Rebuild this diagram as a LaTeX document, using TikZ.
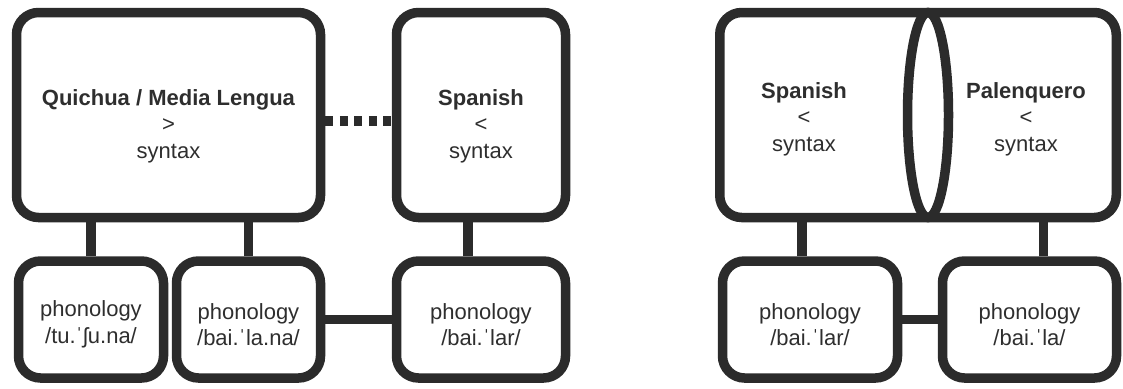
\documentclass[tikz,border=0pt]{standalone}
\usepackage{fontspec}
\setmainfont{Liberation Sans}
\usetikzlibrary{shapes.geometric}
\definecolor{ink}{HTML}{2B2B2B}
\definecolor{txt}{HTML}{2E2E2E}

\begin{document}
\begin{tikzpicture}[x=1pt, y=-1pt,
    frame/.style={draw=ink, line width=9.5pt, rounded corners=22pt, inner sep=0pt},
    lbl/.style={align=center, text=txt, inner sep=0pt, font=\fontsize{22}{26.5}\selectfont},
    link/.style={draw=ink, line width=9.5pt}]
    \useasboundingbox (0,0) rectangle (1123,388);

    % -- linke Gruppe: Syntax --
    \node[frame, minimum width=304pt, minimum height=205pt] (quichua) at (168.5,115) {};
    \node[frame, minimum width=169pt, minimum height=205pt] (spanL) at (481,115) {};
    \node[lbl] (quichuaTxt) at ([yshift=-11pt]quichua.center)
        {\textbf{Quichua / Media Lengua}\\>\\syntax};
    \node[lbl] (spanLTxt) at ([yshift=-11pt]spanL.center)
        {\textbf{Spanish}\\<\\syntax};

    % -- linke Gruppe: Phonologie --
    \node[frame, minimum width=145pt, minimum height=117pt] (phTu) at (91,319.5) {};
    \node[frame, minimum width=144pt, minimum height=117pt] (phBaiNa) at (248.5,319.5) {};
    \node[frame, minimum width=169pt, minimum height=117pt] (phBaiL) at (481,319.5) {};
    \node[lbl] at ([yshift=-5pt]phTu.center) {phonology\\/tu.ˈʃu.na/};
    \node[lbl] at ([yshift=-5pt]phBaiNa.center) {phonology\\/bai.ˈla.na/};
    \node[lbl] at ([yshift=-5pt]phBaiL.center) {phonology\\/bai.ˈlar/};

    \draw[link] (phTu.north) -- (phTu.north |- quichua.south);
    \draw[link] (phBaiNa.north) -- (phBaiNa.north |- quichua.south);
    \draw[link] ([xshift=-13pt]phBaiL.north) -- ([xshift=-13pt]phBaiL.north |- spanL.south);
    \draw[link] (phBaiNa.east) -- (phBaiL.west);
    \draw[link, dash pattern=on 8pt off 6.5pt]
        ([yshift=-6pt]quichua.east) -- ([yshift=-6pt]spanL.west);

    % -- rechte Gruppe: Syntax (zwei Boxen mit Ellipse) --
    \node[frame, minimum width=396.5pt, minimum height=205pt] (pair) at (918,115) {};
    \node[draw=ink, line width=9.5pt, fill=white, ellipse, inner sep=0pt,
        minimum width=41pt, minimum height=205pt] (joint) at (928,115) {};
    \node[lbl] (spanR) at (804,119) {\textbf{Spanish}\\<\\syntax};
    \node[lbl] (palenq) at (1026,119) {\textbf{Palenquero}\\<\\syntax};

    % -- rechte Gruppe: Phonologie --
    \node[frame, minimum width=175pt, minimum height=117pt] (phLar) at (810,319.5) {};
    \node[frame, minimum width=174pt, minimum height=117pt] (phLa) at (1029.5,319.5) {};
    \node[lbl] at ([yshift=-5pt]phLar.center) {phonology\\/bai.ˈlar/};
    \node[lbl] at ([yshift=-5pt]phLa.center) {phonology\\/bai.ˈla/};

    \draw[link] ([xshift=-8pt]phLar.north) -- ([xshift=-8pt]phLar.north |- pair.south);
    \draw[link] ([xshift=14pt]phLa.north) -- ([xshift=14pt]phLa.north |- pair.south);
    \draw[link] (phLar.east) -- (phLa.west);
\end{tikzpicture}
\end{document}
